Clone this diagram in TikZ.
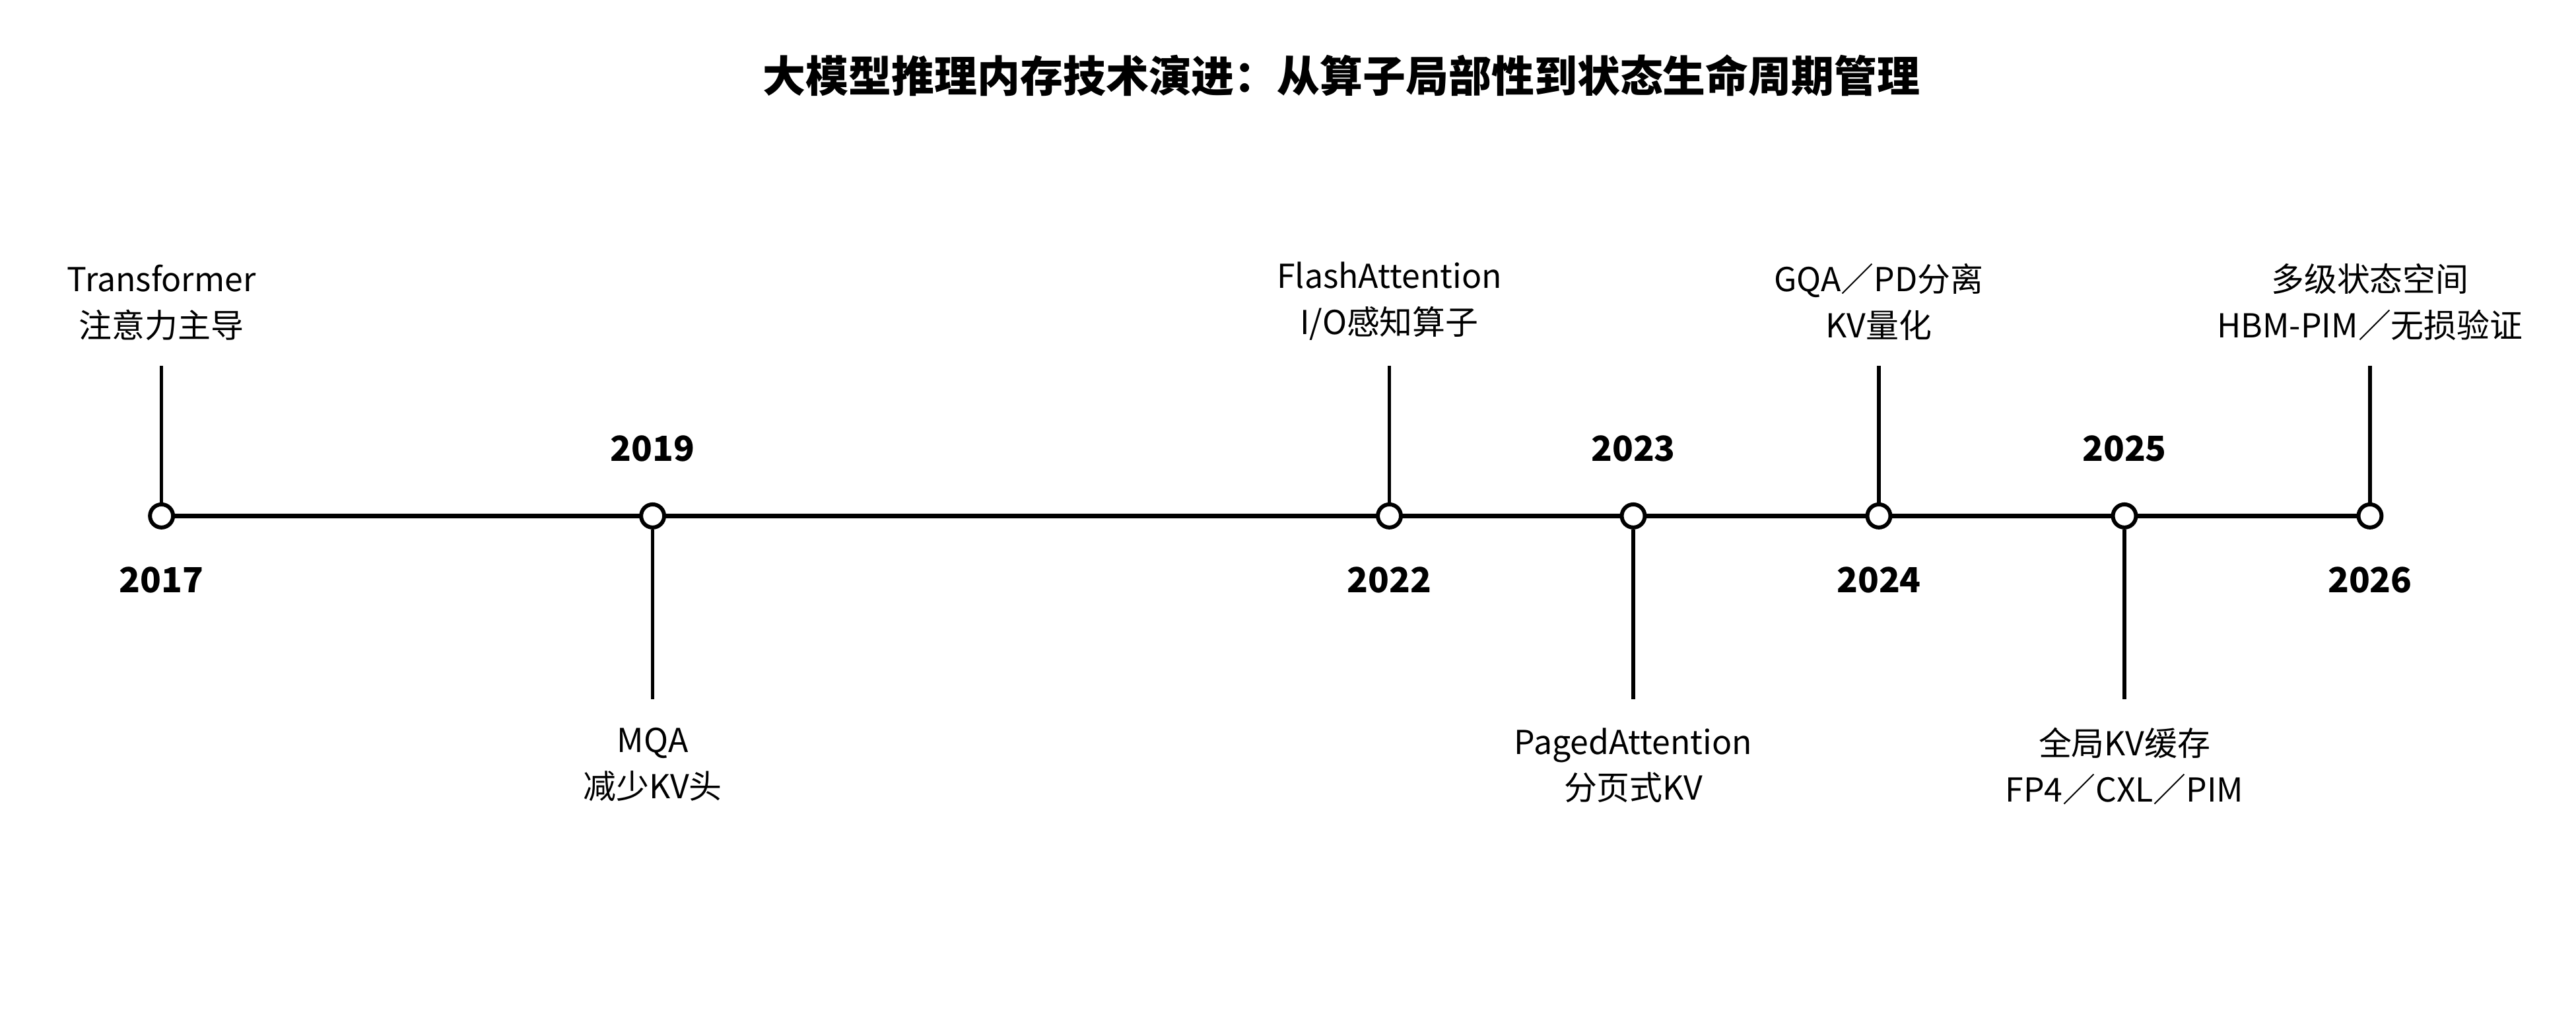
\documentclass[tikz,border=0pt]{standalone}
\usepackage{fontspec}
\setmainfont{Noto Sans CJK SC}
\begin{document}
\begin{tikzpicture}[x=1pt,y=-1pt,
  ev/.style={circle,draw=black,fill=white,line width=2.4pt,minimum size=14pt,inner sep=0pt},
  yr/.style={font=\fontsize{21}{24}\selectfont\bfseries},
  lb/.style={font=\fontsize{20}{28}\selectfont,align=center},
  ln/.style={line width=2.2pt}]
\useasboundingbox (0,0) rectangle (1563,626);
\node[font=\fontsize{26}{30}\selectfont\bfseries] (title) at (814,46) {大模型推理内存技术演进：从算子局部性到状态生命周期管理};
\coordinate (L) at (98,313); \coordinate (R) at (1438,313);
\draw[line width=2.8pt] (L) -- (R);
\foreach \n/\x/\yr/\up/\txt in {
 a/98/2017/1/{Transformer\\注意力主导},
 b/396/2019/0/{MQA\\减少KV头},
 c/843/2022/1/{FlashAttention\\I/O感知算子},
 d/991/2023/0/{PagedAttention\\分页式KV},
 e/1140/2024/1/{GQA／PD分离\\KV量化},
 f/1289/2025/0/{全局KV缓存\\FP4／CXL／PIM},
 g/1438/2026/1/{多级状态空间\\HBM-PIM／无损验证}}{
  \ifnum\up=1
    \coordinate (s\n) at (\x,222);
    \node[lb,anchor=south] (t\n) at (\x,210) {\txt};
    \node[yr] (y\n) at (\x,352) {\yr};
  \else
    \coordinate (s\n) at (\x,424);
    \node[lb,anchor=north] (t\n) at (\x,438) {\txt};
    \node[yr] (y\n) at (\x,272) {\yr};
  \fi
  \node[ev] (p\n) at (\x,313) {};
  \draw[ln] (p\n) -- (s\n);
}
\end{tikzpicture}
\end{document}
